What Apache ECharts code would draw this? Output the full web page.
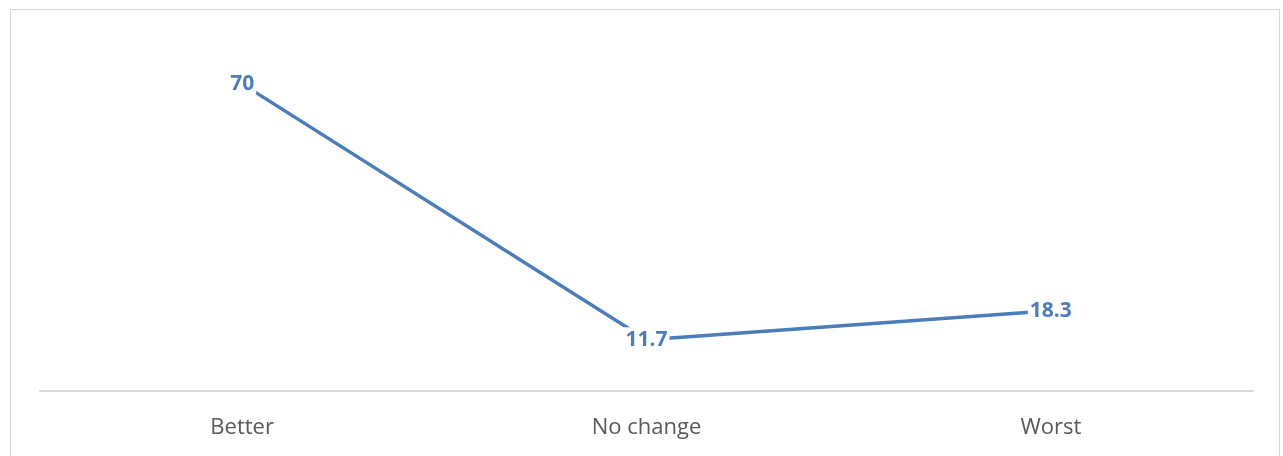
<!DOCTYPE html>
<html>
<head>
<meta charset="utf-8">
<script src="https://cdn.jsdelivr.net/npm/echarts@6/dist/echarts.min.js"></script>
<style>
html,body{margin:0;padding:0;background:#fff;}
#frame{position:absolute;left:10px;top:9px;width:1270px;height:460px;border:1px solid #d9d9d9;border-bottom:none;box-sizing:border-box;}
#chart{position:absolute;left:0;top:0;width:1283px;height:456px;}
</style>
</head>
<body>
<div id="frame"></div>
<div id="chart"></div>
<script>
const categories = ["Better", "No change", "Worst"];
const values = [70, 11.7, 18.3];

const chart = echarts.init(document.getElementById('chart'));
chart.setOption({
  animation: false,
  grid: { left: 40, right: 30, top: 40, bottom: 65, containLabel: false },
  xAxis: {
    type: 'category',
    data: categories,
    boundaryGap: true,
    axisLine: { show: true, lineStyle: { color: '#d9d9d9', width: 2 } },
    axisTick: { show: false },
    axisLabel: { color: '#595959', fontSize: 22, fontFamily: 'Open Sans', margin: 26 }
  },
  yAxis: {
    type: 'value',
    min: 0, max: 80,
    show: false,
    splitLine: { show: false }
  },
  series: [{
    type: 'line',
    data: values,
    symbol: 'circle',
    symbolSize: 4,
    showSymbol: true,
    itemStyle: { color: 'rgba(0,0,0,0)', borderWidth: 0 },
    lineStyle: { color: '#4a7ebb', width: 3.5 },
    label: {
      show: true,
      position: 'inside',
      opacity: 1,
      color: '#4a7ebb',
      fontWeight: 'bold',
      fontSize: 21,
      fontFamily: 'Open Sans',
      backgroundColor: '#fff',
      padding: [2, 2]
    },
    z: 2
  }]
});
</script>
</body>
</html>
